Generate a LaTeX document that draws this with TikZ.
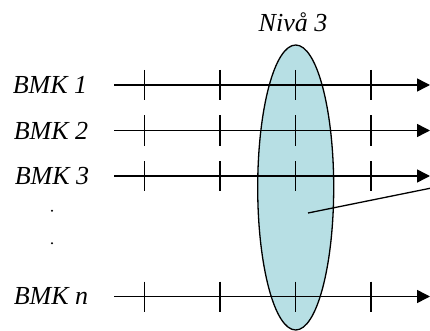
\documentclass[tikz,border=0pt]{standalone}
\usepackage{fontspec}
\setmainfont{Liberation Serif}
\usetikzlibrary{arrows.meta, shapes.geometric}
\definecolor{nivafill}{RGB}{183,223,228}
\begin{document}
\begin{tikzpicture}[x=1pt, y=-1pt,
    lbl/.style={font=\fontsize{26}{30}\selectfont\itshape, inner sep=0pt},
    axis/.style={line width=1.5pt, -{Triangle[length=13pt, width=13pt]}},
    tick/.style={line width=1.5pt},
    lvl/.style={ellipse, draw, line width=1.3pt, fill=nivafill, inner sep=0pt, minimum width=76, minimum height=285}]
    \useasboundingbox (0,0) rectangle (430,331);
    \node[lvl] (niva) at (295.7,187.5) {};
    \node[lbl] (nivatxt) at (293,22) {Nivå 3};
    \foreach \name/\txt/\y/\lx in {b1/BMK 1/85/50, b2/BMK 2/130.5/51, b3/BMK 3/176/52, bn/BMK n/296.5/51} {
        \node[lbl] (\name) at (\lx,\y) {\txt};
        \coordinate (\name s) at (114,\y);
        \coordinate (\name e) at (430,\y);
        \draw[axis] (\name s) -- (\name e);
        \foreach \tx in {144.3,220,295.7,371}
            \draw[tick] (\tx,\y-15) -- (\tx,\y+15);
    }
    \fill (52,210.7) circle (1.1) coordinate (dot1);
    \fill (52,243.3) circle (1.1) coordinate (dot2);
    \coordinate (ptr) at (308,213);
    \coordinate (ptrend) at (430,188.3);
    \draw[line width=1.3pt] (ptr) -- (ptrend);
\end{tikzpicture}
\end{document}
